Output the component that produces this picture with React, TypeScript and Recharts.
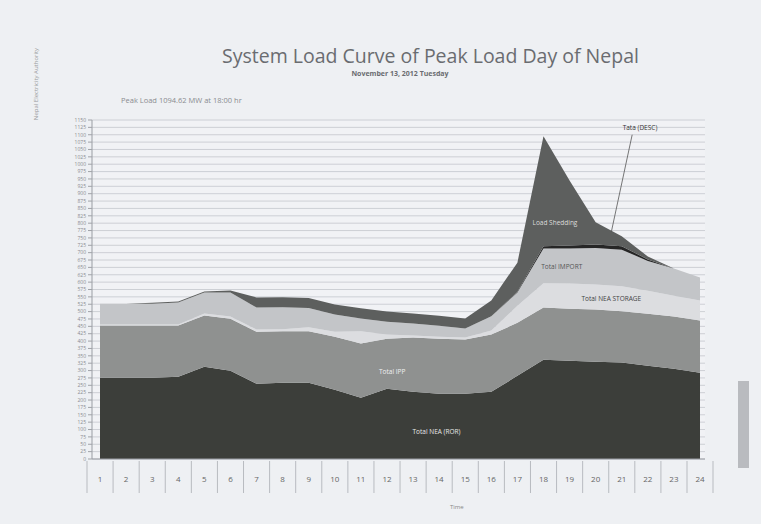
import React from 'react';
import {
  AreaChart,
  Area,
  XAxis,
  YAxis,
  CartesianGrid,
  ReferenceDot,
  ReferenceLine,
} from 'recharts';

// hourly generation mix (MW)
const hours = [1, 2, 3, 4, 5, 6, 7, 8, 9, 10, 11, 12, 13, 14, 15, 16, 17, 18, 19, 20, 21, 22, 23, 24];
const neaRor = [276, 276, 276, 279, 313, 299, 255, 259, 259, 235, 208, 238, 228, 221, 221, 228, 282, 337, 333, 330, 327, 316, 306, 293];
const ipp = [177, 177, 177, 174, 174, 177, 177, 174, 174, 180, 184, 170, 184, 187, 184, 194, 180, 177, 177, 177, 174, 177, 177, 177];
const neaStorage = [3, 3, 3, 3, 7, 7, 7, 7, 14, 17, 41, 14, 7, 7, 7, 14, 58, 82, 85, 85, 85, 78, 71, 68];
const totalImport = [71, 71, 71, 75, 71, 82, 75, 75, 65, 58, 44, 44, 41, 37, 31, 48, 45, 118, 119, 124, 124, 101, 92, 78];
const tataDesc = [0, 0, 0, 0, 0, 0, 0, 0, 0, 0, 0, 0, 0, 0, 0, 0, 2, 8, 10, 12, 12, 5, 0, 0];
const loadShedding = [0, 0, 3, 3, 3, 7, 34, 34, 34, 34, 34, 34, 34, 34, 34, 54, 99, 373, 221, 75, 34, 10, 0, 0];

const yTicks: number[] = [];
for (let v = 0; v <= 1150; v += 25) yTicks.push(v);

// in-chart annotations: [text, hour, MW, colour]
const areaLabels: [string, number, number, string][] = [
  ['Total NEA (ROR)', 13.9, 92, '#e8e8e8'],
  ['Total IPP', 12.2, 296, '#f0f0f0'],
  ['Total NEA STORAGE', 20.6, 544, '#444'],
  ['Total IMPORT', 18.7, 653, '#555'],
  ['Load Shedding', 18.44, 803, '#dcdcdc'],
  ['Tata (DESC)', 21.7, 1123, '#333'],
];

const data = hours.map((h, i) => ({
  hour: h,
  ror: neaRor[i],
  ipp: ipp[i],
  storage: neaStorage[i],
  imp: totalImport[i],
  desc: tataDesc[i],
  shed: loadShedding[i],
}));

const series = [
  { key: 'ror', fill: '#3c3e3a' },
  { key: 'ipp', fill: '#8f9190' },
  { key: 'storage', fill: '#dcdde0' },
  { key: 'imp', fill: '#c3c5c8' },
  { key: 'desc', fill: '#262626' },
  { key: 'shed', fill: '#5d5f5e' },
];

const HourTick = (props: any) => {
  const { x, y, payload } = props;
  return (
    <g>
      <line x1={x - 13} y1={y - 6} x2={x - 13} y2={y + 26} stroke="#b8bbc0" />
      {payload.value === 24 && <line x1={x + 13} y1={y - 6} x2={x + 13} y2={y + 26} stroke="#b8bbc0" />}
      <text x={x} y={y + 15} textAnchor="middle" fontSize={8} fill="#666">
        {payload.value}
      </text>
    </g>
  );
};

export default function App() {
  return (
    <div
      style={{
        position: 'absolute',
        left: 0,
        top: 0,
        width: 761,
        height: 524,
        background: '#eef0f3',
        fontFamily: '"Open Sans", sans-serif',
        overflow: 'hidden',
      }}
    >
      <div style={{ position: 'absolute', left: 0, width: 861, top: 42, textAlign: 'center', fontSize: 19.5, color: '#6a6c70' }}>
        System Load Curve of Peak Load Day of Nepal
      </div>
      <div style={{ position: 'absolute', left: 0, width: 800, top: 69, textAlign: 'center', fontSize: 7, fontWeight: 700, color: '#6a6c70' }}>
        November 13, 2012 Tuesday
      </div>
      <div style={{ position: 'absolute', left: 121, top: 95, fontSize: 7.5, color: '#8a8c90' }}>
        Peak Load 1094.62 MW at 18:00 hr
      </div>
      <div
        style={{
          position: 'absolute',
          left: -14,
          top: 80,
          width: 100,
          fontSize: 6,
          color: '#9a9ca0',
          transform: 'rotate(-90deg)',
          textAlign: 'center',
        }}
      >
        Nepal Electricity Authority
      </div>
      <div style={{ position: 'absolute', left: 738, top: 381, width: 11, height: 87, background: '#b9bbbf' }} />
      <div style={{ position: 'absolute', left: 450, top: 503, fontSize: 6, color: '#888' }}>Time</div>
      <AreaChart
        width={761}
        height={524}
        data={data}
        margin={{ top: 120, right: 56, left: 62, bottom: 35 }}
        style={{ position: 'absolute', left: 0, top: 0 }}
      >
        <CartesianGrid vertical={false} stroke="#c4c7cd" strokeWidth={0.8} fill="#f1f2f5" />
        <XAxis
          dataKey="hour"
          type="number"
          domain={[1, 24]}
          ticks={hours}
          interval={0}
          padding={{ left: 8, right: 5 }}
          height={30}
          tick={<HourTick />}
          tickLine={false}
          axisLine={{ stroke: '#9a9da3' }}
        />
        <YAxis
          domain={[0, 1150]}
          ticks={yTicks}
          interval={0}
          width={30}
          tick={{ fontSize: 5, fill: '#8a8c90' }}
          tickSize={4}
          tickLine={{ stroke: '#a0a3a8' }}
          axisLine={{ stroke: '#9a9da3' }}
        />
        {series.map((s) => (
          <Area
            key={s.key}
            type="linear"
            dataKey={s.key}
            stackId="load"
            stroke="none"
            fill={s.fill}
            fillOpacity={1}
            isAnimationActive={false}
          />
        ))}
        <ReferenceLine
          segment={[
            { x: 21.4, y: 1100 },
            { x: 20.6, y: 770 },
          ]}
          stroke="#555"
          strokeWidth={0.8}
        />
        {areaLabels.map(([text, h, v, color]) => (
          <ReferenceDot
            key={text}
            x={h}
            y={v}
            r={0}
            label={{ value: text, position: 'center', fontSize: 6.5, fill: color }}
          />
        ))}
      </AreaChart>
    </div>
  );
}
